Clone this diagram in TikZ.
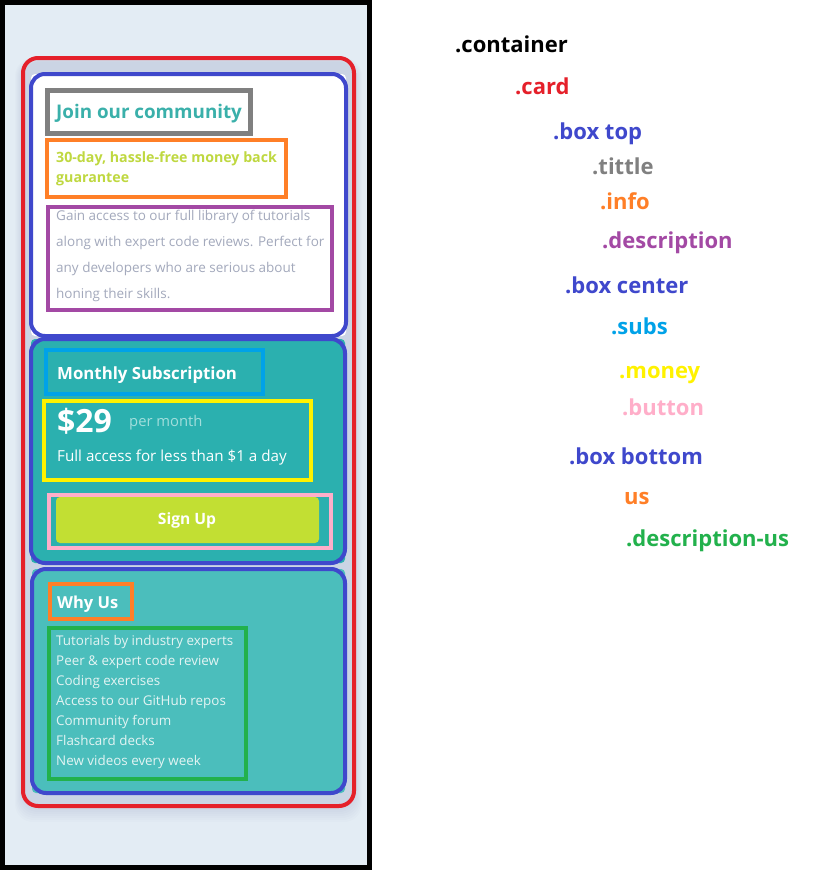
\documentclass[tikz,border=0pt]{standalone}
\usepackage{fontspec}
\setmainfont{Open Sans}
\newfontfamily\labfont{Open Sans}
\definecolor{bgc}{HTML}{E3ECF4}
\definecolor{cred}{HTML}{E5202A}
\definecolor{cblue}{HTML}{3F48CC}
\definecolor{cgray}{HTML}{808080}
\definecolor{corange}{HTML}{FF7F27}
\definecolor{cpurple}{HTML}{A349A4}
\definecolor{ccyan}{HTML}{00A2E8}
\definecolor{cyellow}{HTML}{FFF200}
\definecolor{cpink}{HTML}{FFAEC9}
\definecolor{cgreen}{HTML}{22B14C}
\definecolor{tealtxt}{HTML}{3AB0AA}
\definecolor{infotxt}{HTML}{BFD840}
\definecolor{desctxt}{HTML}{A3A9BC}
\definecolor{centerfill}{HTML}{2BB0AF}
\definecolor{bottomfill}{HTML}{4BBEBC}
\definecolor{btnfill}{HTML}{C2DF33}
\definecolor{pmtxt}{HTML}{A2DEDC}
\definecolor{itemtxt}{HTML}{E3F4F3}
\tikzset{
  lab/.style={anchor=base west, inner sep=0pt, font=\labfont\bfseries\fontsize{22}{26}\selectfont},
  txt/.style={anchor=base west, inner sep=0pt},
  frame/.style={line width=4pt},
}
\begin{document}
\begin{tikzpicture}[x=1pt,y=-1pt]
\useasboundingbox (0,0) rectangle (812,870);
\fill[white] (0,0) rectangle (812,870);
% container
\draw[line width=5pt, fill=bgc] (2.5,2.5) rectangle (369.5,867.5);
% soft card shadow
\foreach \k in {1,...,8}
  \fill[black!60!blue, opacity=0.012, rounded corners=18pt] (23-\k,62-\k/2) rectangle (354+\k,806+2*\k);
% box fills
\fill[white, rounded corners=4pt] (31,74) rectangle (346,336);
\fill[centerfill, rounded corners=4pt] (31,339) rectangle (345,563);
\fill[bottomfill, rounded corners=4pt] (32,569) rectangle (345,793);
% card (red)
\draw[frame, cred, rounded corners=15pt] (23,58) rectangle (354,806);
% box frames
\draw[frame, cblue, rounded corners=14pt] (31,74) rectangle (346,336);
\draw[frame, cblue, rounded corners=14pt] (31,339) rectangle (345,563);
\draw[frame, cblue, rounded corners=14pt] (32,569) rectangle (345,793);
% inner frames
\draw[line width=5pt, cgray] (47.5,90.5) rectangle (250.5,133.5);
\draw[frame, corange] (47,140) rectangle (286,197);
\draw[frame, cpurple] (48,207) rectangle (332,310);
\draw[frame, ccyan] (46,350) rectangle (263,394);
\draw[frame, cyellow] (44,401) rectangle (311,480);
\fill[btnfill, rounded corners=4pt] (56,497) rectangle (319,543);
\draw[frame, cpink] (49,495) rectangle (331,548);
\draw[frame, corange] (50,584) rectangle (132,619);
\draw[frame, cgreen] (49,628) rectangle (246,779);
% texts top
\node[txt, font=\bfseries\fontsize{18.8}{20}\selectfont, text=tealtxt] (title) at (56,118) {Join our community};
\node[txt, font=\bfseries\fontsize{14.2}{15}\selectfont, text=infotxt] (info1) at (56,162) {30-day, hassle-free money back};
\node[txt, font=\bfseries\fontsize{14.2}{15}\selectfont, text=infotxt] (info2) at (56,182) {guarantee};
\node[txt, font=\fontsize{13.5}{14}\selectfont, text=desctxt] (d1) at (56,220) {Gain access to our full library of tutorials};
\node[txt, font=\fontsize{13.5}{14}\selectfont, text=desctxt] (d2) at (56,246) {along with expert code reviews. Perfect for};
\node[txt, font=\fontsize{13.5}{14}\selectfont, text=desctxt] (d3) at (56,272) {any developers who are serious about};
\node[txt, font=\fontsize{13.5}{14}\selectfont, text=desctxt] (d4) at (56,298) {honing their skills.};
% center
\node[txt, font=\bfseries\fontsize{16.8}{18}\selectfont, text=white] (subs) at (57,379) {Monthly Subscription};
\node[txt, font=\bfseries\fontsize{32}{34}\selectfont, text=white] (price) at (57,432) {\$29};
\node[txt, font=\fontsize{14.8}{16}\selectfont, text=pmtxt] (pm) at (129,426) {per month};
\node[txt, font=\fontsize{15.2}{17}\selectfont, text=white] (full) at (57,461) {Full access for less than \$1 a day};
\node[inner sep=0pt, font=\bfseries\fontsize{15.6}{17}\selectfont, text=white] (btn) at (187,520) {Sign Up};
% bottom
\node[txt, font=\bfseries\fontsize{16.5}{18}\selectfont, text=white] (why) at (57,608) {Why Us};
\foreach \t [count=\i from 0] in {Tutorials by industry experts, Peer \& expert code review, Coding exercises, Access to our GitHub repos, Community forum, Flashcard decks, New videos every week}
  \node[txt, font=\fontsize{13.4}{15}\selectfont, text=itemtxt] (item\i) at (56,645+20*\i) {\t};
% labels
\node[lab, text=black] (lcontainer) at (455,52) {.container};
\node[lab, text=cred] (lcard) at (515,94) {.card};
\node[lab, text=cblue] (lboxtop) at (553,139) {.box top};
\node[lab, text=cgray] (ltittle) at (592,174) {.tittle};
\node[lab, text=corange] (linfo) at (600,209) {.info};
\node[lab, text=cpurple] (ldesc) at (602,248) {.description};
\node[lab, text=cblue] (lboxcenter) at (565,293) {.box center};
\node[lab, text=ccyan] (lsubs) at (611,334) {.subs};
\node[lab, text=cyellow] (lmoney) at (619,378) {.money};
\node[lab, text=cpink] (lbutton) at (622,415) {.button};
\node[lab, text=cblue] (lboxbottom) at (569,464) {.box bottom};
\node[lab, text=corange] (lus) at (624,504) {us};
\node[lab, text=cgreen] (ldescus) at (626,546) {.description-us};
\end{tikzpicture}
\end{document}
